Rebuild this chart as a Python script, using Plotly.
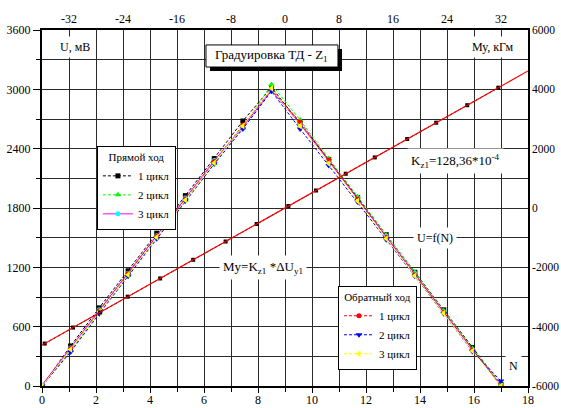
import plotly.graph_objects as go

# Load steps N (bottom axis) and bridge output U, mV (left axis)
steps_n = [0, 1.06, 2.12, 3.19, 4.25, 5.31, 6.38, 7.44, 8.5,
           9.56, 10.62, 11.69, 12.75, 13.81, 14.88, 15.94, 17]

u_fwd_1 = [0, 405, 790, 1165, 1545, 1925, 2300, 2680, 3020, 2660, 2290, 1905, 1530, 1150, 770, 390, 15]
u_fwd_2 = [0, 360, 745, 1120, 1500, 1880, 2250, 2610, 3050, 2690, 2300, 1915, 1525, 1150, 760, 380, 20]
u_fwd_3 = [10, 385, 770, 1140, 1520, 1900, 2280, 2620, 2990, 2650, 2275, 1895, 1515, 1135, 750, 370, 5]
u_rev_1 = [0, 380, 760, 1135, 1515, 1890, 2270, 2640, 3000, 2670, 2285, 1890, 1505, 1125, 745, 365, 0]
u_rev_2 = [0, 345, 730, 1110, 1490, 1870, 2245, 2600, 2980, 2600, 2230, 1860, 1480, 1110, 730, 350, 50]
u_rev_3 = [0, 370, 750, 1125, 1505, 1880, 2255, 2630, 3010, 2630, 2250, 1870, 1490, 1115, 735, 355, 0]

# Moment My, kGm (right axis) against ΔU (top axis)
delta_u = [-35.6, -31.4, -27.4, -23.3, -18.5, -13.6, -8.8, -4.2,
           0.5, 4.6, 9.0, 13.3, 18.1, 22.4, 27.0, 31.6]
moment_my = [-4570, -4030, -3520, -2990, -2375, -1745, -1130, -540,
             65, 590, 1155, 1705, 2325, 2875, 3465, 4055]

# Calibration coefficient (My = K * ΔU), in units of 10^-4
K_Z1 = 128.36
fit_du = [-36, 36]
fit_my = [K_Z1 * v for v in fit_du]

# Secondary-axis tick labels (plain hyphen for the minus sign)
top_tick_vals = [-32, -24, -16, -8, 0, 8, 16, 24, 32]
top_tick_text = ["-32", "-24", "-16", "-8", "0", "8", "16", "24", "32"]
right_tick_vals = [-6000, -4000, -2000, 0, 2000, 4000, 6000]
right_tick_text = ["-6000", "-4000", "-2000", "0", "2000", "4000", "6000"]

SERIF = "Liberation Serif, 'Times New Roman', Times, serif"
DASH = "3px,2px"

fig = go.Figure()

# Calibration points and fitted line on the top/right axes
fig.add_trace(go.Scatter(
    x=delta_u, y=moment_my, xaxis="x2", yaxis="y2", mode="lines+markers",
    line=dict(color="black", width=1, dash=DASH),
    marker=dict(symbol="square", size=4, color="black"),
    showlegend=False, hoverinfo="skip"))
fig.add_trace(go.Scatter(
    x=fit_du, y=fit_my, xaxis="x2", yaxis="y2", mode="lines",
    line=dict(color="#ff0000", width=1.2),
    showlegend=False, hoverinfo="skip"))

series = [
    (u_fwd_1, "1 цикл", "legend", dict(color="black", width=1, dash=DASH),
     dict(symbol="square", size=5, color="black")),
    (u_fwd_2, "2 цикл", "legend", dict(color="#00ff00", width=1, dash=DASH),
     dict(symbol="triangle-up", size=6, color="#00ff00")),
    (u_fwd_3, "3 цикл", "legend", dict(color="#ff00ff", width=1),
     dict(symbol="circle", size=5, color="#00ffff")),
    (u_rev_1, "1 цикл", "legend2", dict(color="#ff0000", width=1, dash=DASH),
     dict(symbol="circle", size=5, color="#ff0000")),
    (u_rev_2, "2 цикл", "legend2", dict(color="#0000ff", width=1, dash=DASH),
     dict(symbol="triangle-down", size=6, color="#0000ff")),
    (u_rev_3, "3 цикл", "legend2", dict(color="#ffff00", width=1, dash=DASH),
     dict(symbol="triangle-left", size=6, color="#ffff00")),
]
for ys, name, leg, line, marker in series:
    fig.add_trace(go.Scatter(
        x=steps_n, y=ys, mode="lines+markers", name=name, legend=leg,
        line=line, marker=marker, hoverinfo="skip"))

GRID = "#2a2a2a"
tick_font = dict(family=SERIF, size=12, color="black")

fig.update_layout(
    width=561, height=408,
    margin=dict(l=42, r=33, t=30, b=22, autoexpand=False),
    paper_bgcolor="white", plot_bgcolor="white",
    font=dict(family=SERIF, size=12, color="black"),
    xaxis=dict(
        range=[0, 18], dtick=2, showgrid=True, gridcolor=GRID, gridwidth=1,
        ticks="outside", ticklen=5, tickcolor="black", tickfont=tick_font,
        ticklabelstandoff=-3,
        minor=dict(dtick=1, showgrid=True, gridcolor=GRID, gridwidth=1,
                   ticks="outside", ticklen=4, tickcolor="black"),
        showline=True, linecolor="black", linewidth=2, zeroline=False,
        automargin=False),
    yaxis=dict(
        range=[0, 3600], dtick=600, showgrid=True, gridcolor=GRID, gridwidth=1,
        ticks="outside", ticklen=7, tickcolor="black", tickfont=tick_font,
        minor=dict(dtick=300, showgrid=True, gridcolor=GRID, gridwidth=1,
                   ticks="outside", ticklen=4, tickcolor="black"),
        showline=True, linecolor="black", linewidth=2, zeroline=False,
        automargin=False),
    xaxis2=dict(
        overlaying="x", side="top", anchor="y", range=[-36, 36],
        tickvals=top_tick_vals, ticktext=top_tick_text,
        showgrid=False, zeroline=False, ticks="",
        tickfont=tick_font, showline=True, linecolor="black", linewidth=1.5,
        automargin=False),
    yaxis2=dict(
        overlaying="y", side="right", anchor="x", range=[-6000, 6000],
        tickvals=right_tick_vals, ticktext=right_tick_text,
        showgrid=False, zeroline=False, ticks="",
        tickfont=dict(family=SERIF, size=11.5, color="black"),
        showline=True, linecolor="black", linewidth=1.5,
        automargin=False),
    legend=dict(
        title=dict(text="Прямой ход", side="top center",
                   font=dict(family=SERIF, size=11)),
        x=0.113, y=0.674, xanchor="left", yanchor="top",
        bgcolor="white", bordercolor="black", borderwidth=1,
        font=dict(family=SERIF, size=11), itemwidth=30, tracegroupgap=0),
    legend2=dict(
        title=dict(text="Обратный ход", side="top center",
                   font=dict(family=SERIF, size=11)),
        x=0.609, y=0.281, xanchor="left", yanchor="top",
        bgcolor="white", bordercolor="black", borderwidth=1,
        font=dict(family=SERIF, size=11), itemwidth=30, tracegroupgap=0),
)

# Title plate with a drop shadow
fig.add_shape(type="rect", xref="paper", yref="paper",
              x0=0.3457, x1=0.6173, y0=0.8848, y1=0.9466,
              fillcolor="black", line=dict(width=0), layer="above")
fig.add_shape(type="rect", xref="paper", yref="paper",
              x0=0.3374, x1=0.609, y0=0.896, y1=0.958,
              fillcolor="white", line=dict(color="black", width=1), layer="above")
fig.add_annotation(xref="paper", yref="paper", x=0.473, y=0.927,
                   xanchor="center", yanchor="middle",
                   text="Градуировка ТД - Z<sub>1</sub>", showarrow=False,
                   font=dict(family=SERIF, size=13))

labels = [
    (1.22, 3428, "U, мВ", 12),
    (16.7, 3428, "Му, кГм", 12),
    (15.3, 2275, "K<sub>z1</sub>=128,36*10<sup>-4</sup>", 13),
    (14.55, 1497, "U=f(N)", 12),
    (8.2, 1203, "My=K<sub>z1</sub> *ΔU<sub>y1</sub>", 13),
    (17.45, 202, "N", 12),
]
for x, y, text, size in labels:
    fig.add_annotation(x=x, y=y, xref="x", yref="y", text=text, showarrow=False,
                       bgcolor="white", borderpad=3,
                       font=dict(family=SERIF, size=size, color="black"))

fig.write_html("out.html")
